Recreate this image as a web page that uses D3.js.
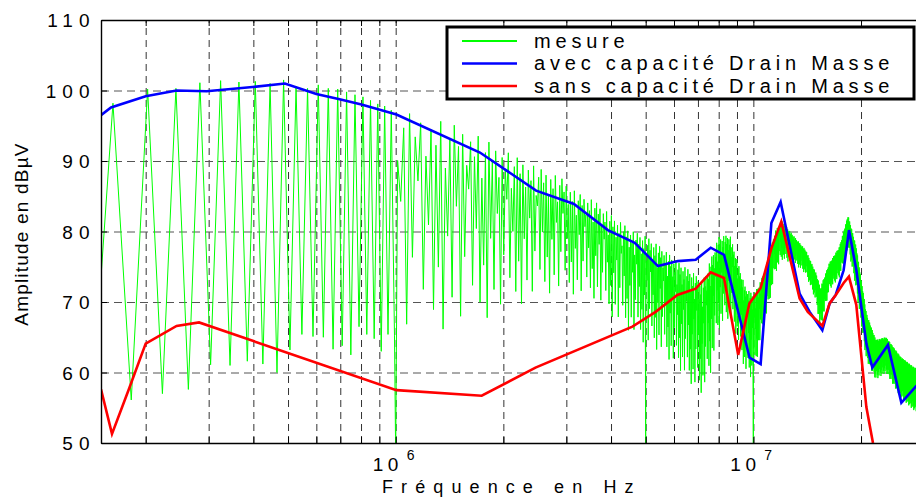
<!DOCTYPE html>
<html><head><meta charset="utf-8">
<script src="https://cdn.jsdelivr.net/npm/d3@7"></script>
<style>
html,body{margin:0;padding:0;background:#fff;}
svg{display:block;font-family:"Liberation Sans",Arial,Helvetica,sans-serif;}
</style></head><body>
<svg id="c" width="916" height="499"></svg>
<script>
// ---------- data ----------
const seriesNames = ["mesure", "avec capacité Drain Masse", "sans capacité Drain Masse"];
const yTickValues = [50, 60, 70, 80, 90, 100, 110];
const xMajorTicks = [1e6, 1e7];
const xMajorExponents = ["6", "7"];
const xGridValues = [2e5,3e5,4e5,5e5,6e5,7e5,8e5,9e5,1e6,2e6,3e6,4e6,5e6,6e6,7e6,8e6,9e6,1e7,2e7];
const yGridValues = [60, 70, 80, 90, 100];

// "avec capacité Drain Masse" (blue)
const avecFreq = [150e3,160e3,200e3,244e3,296e3,398e3,490e3,600e3,697e3,802e3,1.005e6,1.72e6,2.47e6,3.15e6,3.92e6,4.66e6,5.41e6,6.15e6,6.90e6,7.60e6,8.28e6,9.76e6,10.48e6,11.23e6,11.92e6,13.47e6,14.37e6,15.59e6,16.34e6,16.99e6,17.88e6,18.51e6,19.41e6,20.70e6,21.51e6,23.78e6,25.93e6,28.43e6,30e6];
const avecDb   = [96.5,97.6,99.2,100.0,99.9,100.5,101.0,99.5,98.75,98.0,96.6,91.2,85.8,83.9,80.2,78.4,75.1,75.8,76.0,77.7,76.7,62.1,61.2,81.2,84.2,71.2,68.6,66.0,69.8,71.0,74.5,80.2,74.5,64.1,60.7,63.9,55.7,58.0,59.0];

// "sans capacité Drain Masse" (red)
const sansFreq = [150e3,161e3,180e3,200e3,244e3,282e3,1.005e6,1.74e6,2.46e6,4.59e6,5.33e6,6.13e6,6.90e6,7.60e6,8.28e6,9.07e6,9.75e6,10.48e6,11.23e6,11.97e6,13.47e6,14.2e6,15.6e6,16.34e6,17.0e6,17.88e6,18.5e6,19.4e6,20.7e6,21.6e6,23.0e6];
const sansDb   = [57.6,51.3,57.8,64.1,66.6,67.1,57.5,56.7,60.7,66.5,68.6,71.0,71.9,74.2,73.4,62.5,69.8,72.0,77.6,81.4,70.5,68.6,66.6,69.8,71.0,72.7,73.6,69.6,55.1,50.0,44.0];

// "mesure" (green): harmonic comb, spacing read from peak positions
const harmonicStep = 40.5e3;
const mesureStart = [150e3, 73.5];
const mesureLowFirstHarmonic = 4;
const mesureLowPeakDb   = [98.2,100.2,100.3,101.1,101.4,101.2,101.3,101.0,101.5,100.6,100.3,100.8,100.3,100.2,99.8,99.4,99.1,98.6,98.1,97.8,97.2];
const mesureLowTroughDb = [56.1,57.0,57.6,61.1,61.0,61.6,61.2,60.0,63.2,65.4,65.1,65.0,63.3,63.8,62.5,66.5,65.4,64.8,63.0,65.4,65.3];
// dense part: upper / lower envelope of the comb
const mesureEnvFreq  = [1.0e6,1.3e6,1.5e6,1.65e6,1.85e6,2.2e6,2.5e6,2.9e6,3.2e6,3.6e6,4.0e6,4.6e6,5.0e6,5.5e6,6.2e6,6.8e6,7.2e6,7.6e6,8.0e6,8.6e6,9.0e6,9.5e6,10e6,10.5e6,11e6,11.5e6,12e6,13e6,14e6,15e6,15.4e6,16.3e6,17.4e6,18.4e6,19.4e6,20.7e6,22e6,23.5e6,25.8e6,28e6,30e6];
const mesureEnvUpper = [97.2,95.8,94.9,93.9,92.5,90.4,89.0,87.6,85.5,84.3,82.3,80.0,79.3,77.8,75.5,74.1,72.7,76,79.2,79.5,76,72,71,73,76,80,81.5,79.3,77.4,74,72,75.5,77.8,82.3,77.8,68.4,64.6,65,62.2,60.8,60];
const mesureEnvLower = [65,66,66.5,67,68,69.5,71,71.5,71,70.5,68,65.5,64,63,60.5,58,57,60,66,68,65,60,59,65,69,74,76,75.5,74,70,66,71.7,73.5,77.8,71.7,61.8,59,60,56.5,54.7,54];
const mesurePeakDepth   = [1.0,0.9,0.97,0.82,0.95,0.88,1.0,0.78,0.93];
const mesureTroughDepth = [1.0,0.55,0.85,0.4,0.95,0.65,0.3,0.8,0.5,0.9,0.7];
const mesureSpikeFreq = [1e6, 5e6, 10e6];
const mesureSpikeDb   = [48, 48, 48];

// ---------- chart ----------
const L = 101, R = 924, T = 20, B = 443;
const svg = d3.select("#c");
const x = d3.scaleLog().domain([150e3, 30e6]).range([L, R]);
const y = d3.scaleLinear().domain([50, 110]).range([B, T]);

svg.append("defs").append("clipPath").attr("id","clip")
  .append("rect").attr("x",L).attr("y",T).attr("width",R-L).attr("height",B-T);

// grid
const gx = svg.append("g").attr("transform",`translate(0,${B})`)
  .call(d3.axisBottom(x).tickValues(xGridValues).tickSize(-(B-T)).tickFormat(""));
gx.select(".domain").remove();
gx.selectAll("line").attr("stroke","#333").attr("stroke-width",1).attr("stroke-dasharray","7,5");
const gy = svg.append("g").attr("transform",`translate(${L},0)`)
  .call(d3.axisLeft(y).tickValues(yGridValues).tickSize(-(R-L)).tickFormat(""));
gy.select(".domain").remove();
gy.selectAll("line").attr("stroke","#555").attr("stroke-width",1).attr("stroke-dasharray","8,5");

// build green series
const envUp = d3.scaleLog().domain(mesureEnvFreq).range(mesureEnvUpper);
const envLo = d3.scaleLog().domain(mesureEnvFreq).range(mesureEnvLower);
const mesure = [mesureStart];
mesureLowPeakDb.forEach((v,i)=>{
  const n = mesureLowFirstHarmonic + i;
  mesure.push([n*harmonicStep, v]);
  mesure.push([(n+0.5)*harmonicStep, mesureLowTroughDb[i]]);
});
for (let n = mesureLowFirstHarmonic + mesureLowPeakDb.length; n*harmonicStep <= 30e6; n++) {
  const f = n*harmonicStep, ft = (n+0.5)*harmonicStep;
  const u = envUp(f), l = envLo(f);
  mesure.push([f, l + mesurePeakDepth[n % mesurePeakDepth.length]*(u-l)]);
  const u2 = envUp(ft), l2 = envLo(ft);
  mesure.push([ft, u2 - mesureTroughDepth[n % mesureTroughDepth.length]*(u2-l2)]);
}
mesureSpikeFreq.forEach((f,i)=>mesure.push([f, mesureSpikeDb[i]]));
mesure.sort((a,b)=>a[0]-b[0]);

const line = d3.line().x(d=>x(d[0])).y(d=>y(d[1]));
const plot = svg.append("g").attr("clip-path","url(#clip)");
plot.append("path").datum(mesure).attr("d",line)
  .attr("fill","none").attr("stroke","#00ff00").attr("stroke-width",1);
plot.append("path").datum(avecFreq.map((f,i)=>[f,avecDb[i]])).attr("d",line)
  .attr("fill","none").attr("stroke","#0000ff").attr("stroke-width",2.6).attr("stroke-linejoin","miter");
plot.append("path").datum(sansFreq.map((f,i)=>[f,sansDb[i]])).attr("d",line)
  .attr("fill","none").attr("stroke","#ff0000").attr("stroke-width",2.6).attr("stroke-linejoin","miter");

// axes
const xb = svg.append("g").attr("transform",`translate(0,${B})`)
  .call(d3.axisBottom(x).tickValues(xGridValues).tickSize(-6).tickSizeOuter(0).tickFormat(""));
const xt = svg.append("g").attr("transform",`translate(0,${T})`)
  .call(d3.axisTop(x).tickValues(xGridValues).tickSize(-6).tickSizeOuter(0).tickFormat(""));
const yl = svg.append("g").attr("transform",`translate(${L},0)`)
  .call(d3.axisLeft(y).tickValues(yTickValues).tickSize(-6).tickSizeOuter(0).tickPadding(5.5));
[xb,xt,yl].forEach(g=>{
  g.selectAll("path.domain").attr("stroke","#000").attr("stroke-width",1.4);
  g.selectAll("line").attr("stroke","#000").attr("stroke-width",1);
});
yl.selectAll("text").attr("font-size",19).attr("fill","#000")
  .attr("font-family",'"Liberation Sans",Arial,sans-serif')
  .style("letter-spacing","6px").attr("dy","0.35em");

// x major labels 10^n
const xl = svg.append("g");
xMajorTicks.forEach((v,i)=>{
  const t = xl.append("text").attr("x", x(v)-23).attr("y", 471)
    .attr("font-size",19).style("letter-spacing","4.5px").attr("fill","#000");
  t.append("tspan").text("10");
  t.append("tspan").attr("x", x(v)+11).attr("dy",-11).attr("font-size",14).text(xMajorExponents[i]);
});

// axis titles
svg.append("text").attr("x",382).attr("y",493).attr("font-size",18)
  .style("letter-spacing","8.1px").attr("fill","#000").text("Fréquence en Hz");
svg.append("text").attr("transform","translate(28,234) rotate(-90)")
  .attr("text-anchor","middle").attr("font-size",19).style("letter-spacing","1.2px")
  .attr("fill","#000").text("Amplitude en dBµV");

// legend
const lg = svg.append("g");
lg.append("rect").attr("x",447).attr("y",27).attr("width",467).attr("height",72)
  .attr("fill","#fff").attr("stroke","#000").attr("stroke-width",3);
const legColors = ["#00ff00","#0000ff","#ff0000"];
const legWidths = [2, 2.6, 2.6];
seriesNames.forEach((name,i)=>{
  const yy = 41 + i*22.5;
  lg.append("line").attr("x1",462).attr("x2",517).attr("y1",yy).attr("y2",yy)
    .attr("stroke",legColors[i]).attr("stroke-width",legWidths[i]);
  lg.append("text").attr("x",534).attr("y",yy+6.5).attr("font-size",20)
    .style("letter-spacing","4.8px").attr("fill","#000").text(name);
});
</script></body></html>
